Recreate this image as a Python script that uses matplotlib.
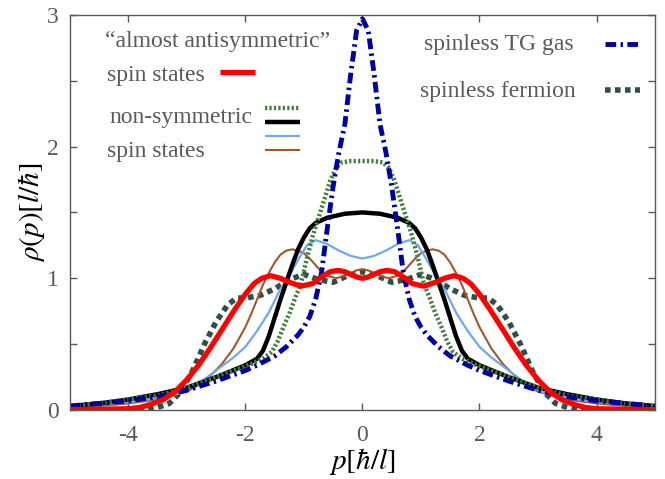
import matplotlib
matplotlib.use('Agg')
import matplotlib.pyplot as plt
import numpy as np

plt.rcParams['font.family'] = ['Liberation Serif', 'DejaVu Serif']
plt.rcParams['mathtext.fontset'] = 'stix'
plt.rcParams['axes.unicode_minus'] = False

# half profiles (p >= 0), curves are symmetric in p
p_tg = [0, 0.1, 0.2, 0.3, 0.4, 0.5, 0.6, 0.7, 0.8, 0.9, 1.0, 1.1, 1.3, 1.5, 1.8, 2.0, 2.5, 3.0, 3.5, 4.0, 4.5, 5.0]
rho_tg = [2.97, 2.88, 2.55, 2.17, 1.96, 1.70, 1.38, 1.04, 0.84, 0.71, 0.63, 0.57, 0.48, 0.41, 0.34, 0.30, 0.22, 0.15, 0.10, 0.07, 0.05, 0.03]

p_ferm = [0, 0.25, 0.5, 0.75, 1.0, 1.25, 1.5, 1.75, 2.0, 2.15, 2.3, 2.5, 2.7, 2.9, 3.1, 3.3, 3.5, 3.7, 4.0]
rho_ferm = [1.05, 1.02, 0.97, 0.99, 1.03, 0.99, 0.92, 0.87, 0.85, 0.85, 0.80, 0.67, 0.50, 0.30, 0.14, 0.05, 0.02, 0.0, 0.0]

p_ns1 = [0, 0.2, 0.35, 0.45, 0.55, 0.65, 0.75, 0.85, 0.95, 1.05, 1.15, 1.25, 1.35, 1.45, 1.55, 1.7, 1.9, 2.2, 2.5, 3.0, 3.5, 4.0, 4.5, 5.0]
rho_ns1 = [1.89, 1.89, 1.88, 1.84, 1.74, 1.60, 1.46, 1.32, 1.15, 0.96, 0.85, 0.73, 0.63, 0.52, 0.44, 0.39, 0.35, 0.30, 0.25, 0.17, 0.11, 0.08, 0.05, 0.03]

p_ns2 = [0, 0.3, 0.6, 0.8, 0.9, 1.0, 1.1, 1.2, 1.3, 1.4, 1.5, 1.6, 1.7, 1.8, 2.0, 2.5, 3.0, 3.5, 4.0, 4.5, 5.0]
rho_ns2 = [1.50, 1.49, 1.46, 1.42, 1.38, 1.31, 1.22, 1.10, 0.97, 0.84, 0.70, 0.56, 0.45, 0.39, 0.34, 0.25, 0.17, 0.12, 0.08, 0.05, 0.03]

p_ns3 = [0, 0.2, 0.4, 0.6, 0.8, 0.95, 1.1, 1.25, 1.4, 1.6, 1.8, 2.0, 2.2, 2.5, 2.8, 3.1, 3.5, 4.0, 4.5, 5.0]
rho_ns3 = [1.15, 1.17, 1.21, 1.26, 1.29, 1.25, 1.14, 1.02, 0.92, 0.74, 0.60, 0.48, 0.40, 0.30, 0.20, 0.13, 0.09, 0.06, 0.04, 0.03]

p_ns4 = [0, 0.1, 0.2, 0.3, 0.45, 0.6, 0.7, 0.8, 0.9, 1.0, 1.1, 1.2, 1.3, 1.4, 1.5, 1.6, 1.7, 1.8, 1.9, 2.0, 2.2, 2.4, 2.6, 2.8, 3.0, 3.5, 4.0, 4.5, 5.0]
rho_ns4 = [1.07, 1.06, 1.04, 1.02, 1.00, 1.02, 1.05, 1.10, 1.15, 1.19, 1.21, 1.22, 1.21, 1.18, 1.12, 1.04, 0.95, 0.84, 0.73, 0.63, 0.47, 0.35, 0.26, 0.19, 0.14, 0.08, 0.05, 0.03, 0.02]

p_anti = [0, 0.1, 0.2, 0.3, 0.42, 0.55, 0.7, 0.85, 1.05, 1.25, 1.4, 1.57, 1.72, 1.85, 2.0, 2.2, 2.4, 2.6, 2.8, 3.0, 3.2, 3.4, 3.6, 3.8, 4.0, 4.5, 5.0]
rho_anti = [1.00, 1.01, 1.03, 1.05, 1.06, 1.05, 1.01, 0.96, 0.94, 0.97, 1.00, 1.02, 1.00, 0.96, 0.88, 0.75, 0.61, 0.47, 0.34, 0.23, 0.14, 0.08, 0.045, 0.02, 0.01, 0.005, 0.003]

x_ticks = [-4, -2, 0, 2, 4]
y_ticks = [0, 1, 2, 3]

gray = '#595959'


def mirror(p, v):
    p = np.asarray(p, float)
    v = np.asarray(v, float)
    return np.concatenate([-p[:0:-1], p]), np.concatenate([v[:0:-1], v])


fig = plt.figure(figsize=(6.65, 4.79), dpi=100)
ax = fig.add_axes([0.105, 0.144, 0.88, 0.825])

styles = [
    (p_ferm, rho_ferm, dict(color='#2f4f47', lw=4.0, dashes=(1.0, 0.8))),
    (p_ns4, rho_ns4, dict(color='#a0582a', lw=1.5)),
    (p_ns3, rho_ns3, dict(color='#6fa8f0', lw=1.6)),
    (p_ns2, rho_ns2, dict(color='black', lw=3.2)),
    (p_ns1, rho_ns1, dict(color='#3f7f3a', lw=3.2, dashes=(0.5, 0.5))),
    (p_tg, rho_tg, dict(color='#0000a0', lw=3.5, dashes=(2.2, 0.9, 0.5, 0.9))),
    (p_anti, rho_anti, dict(color='#ff0000', lw=3.8)),
]
for p, v, kw in styles:
    x, y = mirror(p, v)
    ax.plot(x, y, solid_capstyle='butt', **kw)

ax.set_xlim(-5, 5)
ax.set_ylim(0, 3)
ax.set_xticks(x_ticks)
ax.set_yticks(y_ticks)
ax.set_yticks([0.5, 1.5, 2.5], minor=True)
ax.tick_params(which='both', direction='in', top=True, right=True, colors=gray,
               labelsize=17, length=5, width=1)
ax.tick_params(axis='x', pad=11)
ax.tick_params(axis='y', pad=8)
for s in ax.spines.values():
    s.set_color(gray)
    s.set_linewidth(1.0)

ax.set_xlabel(r'$p[\hbar/l]$', fontsize=21, labelpad=0)
ax.set_ylabel(r'$\rho(p)[l/\hbar]$', fontsize=21, labelpad=0)

# legend drawn by hand, as in the original
tfs = 17
T = ax.transAxes
ax.text(0.06, 0.932, '\u201calmost antisymmetric\u201d', transform=T, fontsize=tfs, color=gray, va='center')
ax.text(0.063, 0.846, 'spin states', transform=T, fontsize=tfs, color=gray, va='center')
ax.plot([0.256, 0.316], [0.856, 0.856], transform=T, color='#ff0000', lw=3.8, solid_capstyle='butt')

ax.text(0.068, 0.739, 'non-symmetric', transform=T, fontsize=tfs, color=gray, va='center')
ax.text(0.063, 0.653, 'spin states', transform=T, fontsize=tfs, color=gray, va='center')
ax.plot([0.333, 0.393], [0.765, 0.765], transform=T, color='#3f7f3a', lw=3.2, dashes=(0.5, 0.5))
ax.plot([0.333, 0.393], [0.729, 0.729], transform=T, color='black', lw=3.2, solid_capstyle='butt')
ax.plot([0.333, 0.393], [0.694, 0.694], transform=T, color='#6fa8f0', lw=1.6, solid_capstyle='butt')
ax.plot([0.333, 0.393], [0.658, 0.658], transform=T, color='#a0582a', lw=1.5, solid_capstyle='butt')

ax.text(0.605, 0.924, 'spinless TG gas', transform=T, fontsize=tfs, color=gray, va='center')
ax.plot([0.915, 0.974], [0.927, 0.927], transform=T, color='#0000a0', lw=3.5, dashes=(2.2, 0.9, 0.5, 0.9))
ax.text(0.598, 0.805, 'spinless fermion', transform=T, fontsize=tfs, color=gray, va='center')
ax.plot([0.915, 0.974], [0.81, 0.81], transform=T, color='#2f4f47', lw=4.0, dashes=(1.0, 0.8))

fig.savefig('out.png', dpi=100)
